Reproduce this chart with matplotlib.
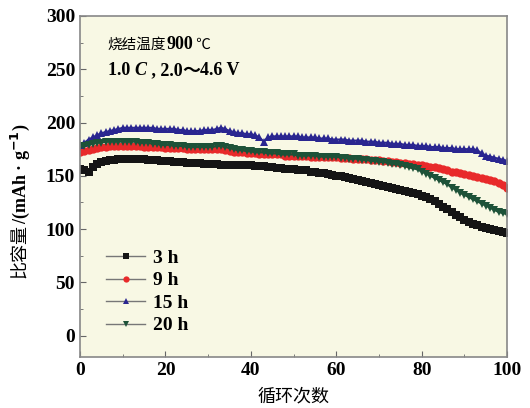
import numpy as np
import matplotlib
matplotlib.use('Agg')
import matplotlib.pyplot as plt
from matplotlib.ticker import MultipleLocator
from matplotlib.lines import Line2D

plt.rcParams['font.family'] = ['Liberation Serif', 'Noto Sans CJK SC']
plt.rcParams['font.weight'] = 'bold'

cycles = np.arange(0, 101)

cap_3h = [156, 155, 154, 158, 161, 163, 164, 165, 165, 166,
          166, 166, 166, 166, 166, 166, 165, 165, 165, 164,
          164, 164, 163, 163, 163, 162, 162, 162, 162, 161,
          161, 161, 161, 160, 160, 160, 160, 160, 160, 160,
          160, 159, 159, 159, 158, 158, 157, 157, 156, 156,
          156, 155, 155, 155, 154, 154, 153, 152.5, 152, 151,
          150, 149.5, 149, 148, 147, 146, 145, 144, 143, 142,
          141, 140, 139.5, 139, 138, 137, 136, 135, 134, 133,
          131.5, 130, 128, 126, 123.5, 121, 118.5, 116, 113.5, 111,
          108.5, 106.5, 105, 103.5, 102, 101, 100, 99, 98, 97, 96]

cap_9h = [172, 173, 174, 175, 176, 177, 177, 178, 178, 178,
          178, 178, 178, 178, 178, 177, 177, 177, 177, 177,
          176, 176, 176, 176, 176, 175, 175, 175, 175, 175,
          175, 175, 175, 175, 174, 173, 172, 172, 172, 171,
          171, 171, 170, 170, 170, 170, 170, 170, 169, 169,
          169, 169, 169, 169, 168, 168, 168, 168, 168, 168,
          168, 167, 167, 167, 166, 166, 166, 166, 165, 165,
          165, 164, 164, 163, 163, 162, 162, 161, 161, 160,
          160, 159, 158, 158, 157, 156, 155, 154, 154, 153,
          152, 151, 150, 149, 148, 147, 146, 145, 143, 141, 139]

cap_15h = [179, 181, 184, 186, 188, 190, 191, 192, 193, 194,
           195, 195, 195, 195, 195, 195, 195, 195, 194, 194,
           194, 194, 194, 193, 193, 192, 192, 192, 192, 193,
           193, 193, 194, 195, 194, 192, 191, 190, 190, 189,
           189, 188, 186, 182, 186, 187, 187, 187, 187, 187,
           187, 187, 186, 186, 186, 186, 185, 185, 185, 184,
           184, 184, 184, 183, 183, 183, 183, 182, 182, 182,
           181, 181, 181, 180, 180, 180, 179, 179, 179, 178,
           178, 178, 177, 177, 177, 176, 176, 176, 175, 175,
           175, 175, 175, 174, 171, 169, 168, 167, 166, 165, 164]

cap_20h = [177, 178, 179, 180, 181, 181, 182, 182, 182, 182,
           182, 182, 182, 182, 181, 181, 181, 180, 180, 179,
           179, 179, 178, 178, 178, 177, 177, 177, 177, 177,
           177, 177, 178, 178, 177, 176, 175, 174, 174, 173,
           173, 172, 172, 172, 171, 171, 171, 170, 170, 170,
           170, 169, 169, 169, 169, 169, 168, 168, 168, 168,
           168, 167, 167, 166, 166, 166, 165, 165, 164, 164,
           163, 163, 162, 161, 161, 160, 159, 158, 157, 156,
           154, 152, 150, 148, 146, 144, 142, 139, 137, 134,
           132, 130, 128, 126, 124, 122, 120, 118, 116, 115, 114]

labels = ['3 h', '9 h', '15 h', '20 h']
series = [cap_3h, cap_9h, cap_15h, cap_20h]
colors = ['#151515', '#e82a2a', '#2a2690', '#1d5238']
markers = ['s', 'o', '^', 'v']

CJK = 'Noto Sans CJK SC'


def chain(ax, first, parts):
    # put each piece right after the previous one on the same line
    prev = first
    for txt, kw in parts:
        prev = ax.annotate(txt, xy=(1, 0.5), xycoords=prev, ha='left', va='center', **kw)
    return prev


fig = plt.figure(figsize=(5.3, 4.08), dpi=100)
ax = fig.add_axes([0.151, 0.125, 0.806, 0.836])
ax.set_facecolor('#f8f8e4')

for vals, c, m in zip(series, colors, markers):
    ax.plot(cycles, vals, color=c, marker=m, markersize=6, markeredgewidth=0,
            linewidth=1.5)

ax.set_xlim(0, 100)
ax.set_ylim(-20, 300)
ax.xaxis.set_major_locator(MultipleLocator(20))
ax.xaxis.set_minor_locator(MultipleLocator(10))
ax.yaxis.set_major_locator(MultipleLocator(50))
ax.yaxis.set_minor_locator(MultipleLocator(25))
ax.tick_params(which='both', direction='in', top=False, right=False,
               labelsize=14, color='#666666')
ax.tick_params(which='major', length=4)
ax.tick_params(which='minor', length=2.5)
for s in ax.spines.values():
    s.set_color('#888888')
    s.set_linewidth(1.2)

ax.set_xlabel('循环次数', family=CJK, fontweight='normal', fontsize=13, labelpad=6)

# y label: regular CJK part, then bold unit part stacked above it
t1 = fig.text(0.038, 0.318, '比容量', family=CJK, fontweight='normal',
              fontsize=13, rotation=90, ha='center', va='bottom')
ax.annotate('/(mAh · g$^{-1}$)', xy=(0.5, 1), xycoords=t1, ha='center', va='bottom',
            rotation=90, fontsize=13, annotation_clip=False)

# annotation lines
a1 = ax.text(6.5, 273, '烧结温度', family=CJK, fontweight='normal', fontsize=10.5, va='center')
chain(ax, a1, [('900', dict(fontsize=13)),
               (' ℃', dict(family=CJK, fontweight='normal', fontsize=10.5))])
a2 = ax.text(6.5, 249, '1.0 ', fontsize=13, va='center')
chain(ax, a2, [('C', dict(fontsize=13, style='italic')),
               (' , 2.0', dict(fontsize=13)),
               ('～', dict(family=CJK, fontsize=13)),
               ('4.6 V', dict(fontsize=13))])

handles = [Line2D([], [], color='#777777', linewidth=1.0, marker=m, markersize=4.5,
                  markerfacecolor=c, markeredgewidth=0) for c, m in zip(colors, markers)]
ax.legend(handles, labels, loc='lower left', bbox_to_anchor=(0.02, 0.015), frameon=False,
          prop={'size': 14, 'weight': 'bold'}, handlelength=2.0, handletextpad=0.4,
          labelspacing=0.25, numpoints=1)

fig.savefig('out.png', dpi=100)
